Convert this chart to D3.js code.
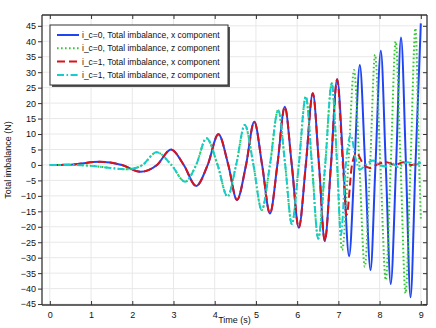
<!DOCTYPE html>
<html><head><meta charset="utf-8">
<script src="https://cdn.jsdelivr.net/npm/d3@7"></script>
<style>body{margin:0;background:#fff;}svg{display:block;font-family:"Liberation Sans",Arial,sans-serif;}</style>
</head><body>
<svg id="c" width="436" height="328"></svg>
<script>
// ---- data (time s, total imbalance N) ----
const xTicks = [0,1,2,3,4,5,6,7,8,9];
const yTicks = [-45,-40,-35,-30,-25,-20,-15,-10,-5,0,5,10,15,20,25,30,35,40,45];
const legendLabels = [
  "i_c=0, Total imbalance, x component",
  "i_c=0, Total imbalance, z component",
  "i_c=1, Total imbalance, x component",
  "i_c=1, Total imbalance, z component"
];
const xShared = [[0,0],[0.5,0.1],[1.2,1.0],[1.75,0],[2.2,-2.2],[2.6,0],[2.94,5.0],[3.25,0],[3.55,-6.8],[3.83,0],[4.09,9.9],[4.33,0],[4.54,-11.3],[4.76,0],[4.96,14.0],[5.15,0],[5.34,-15.7],[5.52,0],[5.70,18.8],[5.87,0],[6.04,-20.3],[6.21,0],[6.38,23.2],[6.53,0],[6.67,-24.6],[6.82,0],[6.97,27.7]];
const zShared = [[0,0],[0.6,0],[1.0,-0.3],[1.9,-1.4],[2.25,0],[2.59,4.1],[2.95,0],[3.28,-5.4],[3.55,0],[3.80,8.6],[4.07,0],[4.31,-10.2],[4.52,0],[4.73,12.9],[4.94,0],[5.14,-14.6],[5.34,0],[5.54,17.8],[5.71,0],[5.87,-19.1],[6.04,0],[6.21,22.1],[6.36,0],[6.51,-23.8],[6.68,0],[6.84,26.4],[6.97,0]];
const x0Tail = [[7.12,0],[7.26,-29.5],[7.39,0],[7.52,32.3],[7.65,0],[7.78,-34.0],[7.90,0],[8.03,36.9],[8.15,0],[8.27,-38.5],[8.40,0],[8.52,41.2],[8.64,0],[8.75,-42.8],[8.87,0],[9.0,45.8]];
const z0Tail = [[7.09,-27.5],[7.24,0],[7.38,30.7],[7.51,0],[7.64,-32.9],[7.77,0],[7.89,35.6],[8.02,0],[8.15,-37.2],[8.27,0],[8.39,39.9],[8.51,0],[8.63,-41.5],[8.75,0],[8.87,44.2],[8.96,0],[9.0,-17.3]];
const x1Tail = [[7.11,0],[7.20,-16.2],[7.33,0],[7.44,3.8],[7.60,0.4],[7.76,-1.0],[7.97,0.3],[8.17,0.9],[8.37,0],[8.57,0.9],[8.77,0],[9.0,0.6]];
const z1Tail = [[7.06,-22.7],[7.18,0],[7.30,9.7],[7.42,2.0],[7.52,-1.5],[7.68,0.2],[7.84,1.4],[8.0,0],[8.15,-0.5],[8.30,0.6],[8.44,-0.7],[8.68,0.9],[8.85,0],[9.0,0.8]];

const series = [
  {data: xShared.concat(x0Tail), color:"#1f45f0", dash:null},
  {data: zShared.concat(z0Tail), color:"#33c733", dash:"1.6,2.4"},
  {data: xShared.concat(x1Tail), color:"#d8131a", dash:"8,4"},
  {data: zShared.concat(z1Tail), color:"#17cccc", dash:"7,2.5,1.6,2.5"}
];

const svg = d3.select("#c");
const L=42, R=427, T=15, B=305;
const x = d3.scaleLinear().domain([-0.19, 9.15]).range([L, R]);
const y = d3.scaleLinear().domain([-45.3, 48.5]).range([B, T]);

// grid
const g = svg.append("g");
g.selectAll(".gx").data(xTicks).enter().append("line")
  .attr("x1",d=>x(d)).attr("x2",d=>x(d)).attr("y1",T).attr("y2",B)
  .attr("stroke","#e8e8e8").attr("stroke-width",1);
g.selectAll(".gy").data(yTicks).enter().append("line")
  .attr("y1",d=>y(d)).attr("y2",d=>y(d)).attr("x1",L).attr("x2",R)
  .attr("stroke","#e8e8e8").attr("stroke-width",1);

// curves
svg.append("defs").append("clipPath").attr("id","clip").append("rect")
  .attr("x",L).attr("y",T).attr("width",R-L).attr("height",B-T);
const line = d3.line().x(d=>x(d[0])).y(d=>y(d[1])).curve(d3.curveMonotoneX);
const cg = svg.append("g").attr("clip-path","url(#clip)");
series.forEach(s=>{
  cg.append("path").attr("d",line(s.data)).attr("fill","none")
    .attr("stroke",s.color).attr("stroke-width",2)
    .attr("stroke-dasharray",s.dash);
});

// axes (frame + ticks)
const axB = d3.axisBottom(x).tickValues(xTicks).tickSize(-4).tickPadding(7).tickFormat(d3.format("d"));
const axL = d3.axisLeft(y).tickValues(yTicks).tickSize(4).tickPadding(2).tickFormat(d3.format("d"));
const axT = d3.axisTop(x).tickValues(xTicks).tickSize(-4).tickFormat("");
const axR = d3.axisRight(y).tickValues(yTicks).tickSize(-4).tickFormat("");
function style(sel){
  sel.selectAll("path").attr("stroke","#333").attr("stroke-width",1.3);
  sel.selectAll("line").attr("stroke","#333");
  sel.selectAll("text").attr("font-size",9).attr("fill","#111").attr("font-family","Liberation Sans, Arial, sans-serif");
}
svg.append("g").attr("transform",`translate(0,${B})`).call(axB).call(style).call(s=>s.select(".domain").attr("d",`M${L},0H${R}`));
svg.append("g").attr("transform",`translate(${L},0)`).call(axL).call(style).call(s=>s.select(".domain").attr("d",`M0,${T}V${B}`));
svg.append("g").attr("transform",`translate(0,${T})`).call(axT).call(style).call(s=>s.select(".domain").attr("d",`M${L},0H${R}`));
svg.append("g").attr("transform",`translate(${R},0)`).call(axR).call(style).call(s=>s.select(".domain").attr("d",`M0,${T}V${B}`));

// axis titles
svg.append("text").attr("x",(L+R)/2).attr("y",323).attr("text-anchor","middle")
  .attr("font-size",9).attr("fill","#111").text("Time (s)");
svg.append("text").attr("transform",`translate(11,${(T+B)/2}) rotate(-90)`).attr("text-anchor","middle")
  .attr("font-size",9).attr("fill","#111").text("Total imbalance (N)");

// legend
const lx=50, ly=25, lw=178, lh=60;
svg.append("rect").attr("x",lx+2).attr("y",ly+2).attr("width",lw).attr("height",lh).attr("fill","#555");
svg.append("rect").attr("x",lx).attr("y",ly).attr("width",lw).attr("height",lh).attr("fill","#fff").attr("stroke","#333").attr("stroke-width",1);
const lg = svg.append("g");
series.forEach((s,i)=>{
  const yy = ly+10+i*13.3;
  lg.append("line").attr("x1",lx+7).attr("x2",lx+29).attr("y1",yy).attr("y2",yy)
    .attr("stroke",s.color).attr("stroke-width",2).attr("stroke-dasharray",s.dash);
  lg.append("text").attr("x",lx+32).attr("y",yy+3.1).attr("font-size",8.5).attr("fill","#111").text(legendLabels[i]);
});
</script>
</body></html>
